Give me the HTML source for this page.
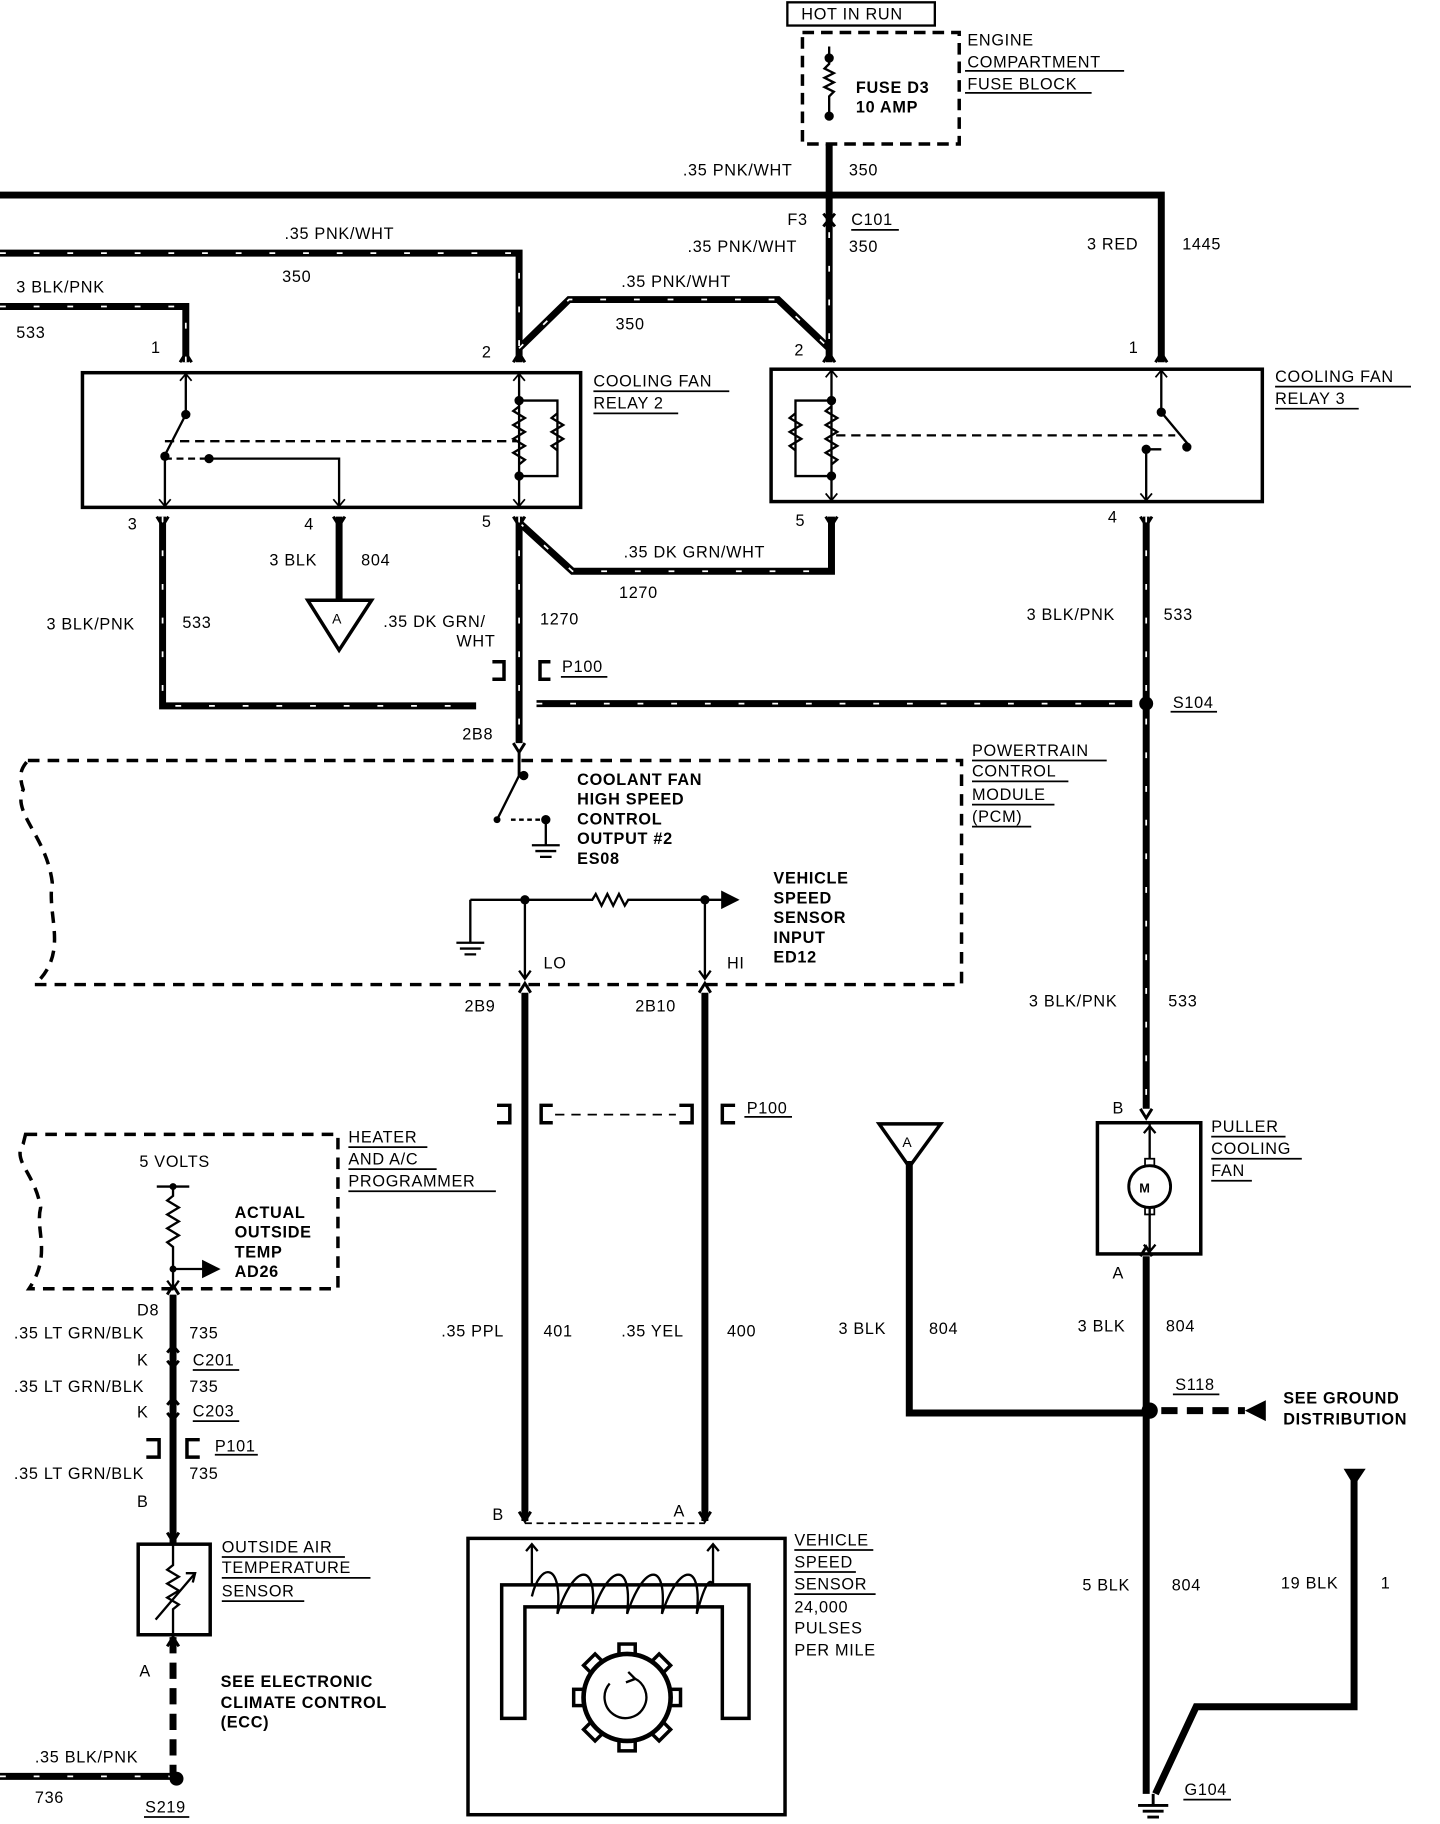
<!DOCTYPE html>
<html><head><meta charset="utf-8"><style>
html,body{margin:0;padding:0;background:#fff;}
svg{display:block}
text{font-family:"Liberation Sans",sans-serif;font-size:14px;fill:#000;letter-spacing:0.6px}
.b{font-weight:bold}
</style></head><body>
<svg width="1440" height="1824" viewBox="0 0 1240 1571" preserveAspectRatio="none" xmlns="http://www.w3.org/2000/svg">
<defs>
<marker id="ar" markerWidth="8" markerHeight="8" refX="7" refY="4" orient="auto"><path d="M0,0 L8,4 L0,8 z" fill="#000"/></marker>
</defs>
<g fill="none" stroke="#000" stroke-linejoin="miter">
<rect x="678" y="2" width="127" height="20" stroke-width="2"/>
<rect x="691" y="28" width="135" height="96" stroke-width="3" stroke-dasharray="10,6"/>
<path d="M714,40 V55 l-4,4 l8,4 l-8,4 l8,4 l-8,4 l8,4 l-4,4 V100" stroke-width="2"/>
<g stroke-width="6">
<path d="M714,124 V312"/>
<path d="M0,168 H1000 V312"/>
<path d="M0,218 H447 V312"/>
<path d="M0,264 H160 V312"/>
<path d="M447,300 L490,258 H670 L714,300"/>
<path d="M140,445 V608 H410"/>
<path d="M292,445 V517"/>
<path d="M447,445 V640"/>
<path d="M447,450 L493,492 H716 V445"/>
<path d="M462,606 H975"/>
<path d="M987,445 V955"/>
<path d="M452,855 V1310"/>
<path d="M607,855 V1310"/>
<path d="M149,1115 V1330"/>
<path d="M987,1082 V1545"/>
<path d="M783,1000 V1217 H987"/>
<path d="M1166,1275 V1470 H1030 L995,1545"/>
<path d="M0,1530 H150"/>
</g>
<g stroke="#fff" stroke-width="1.5" stroke-dasharray="5,24">
<path d="M0,218 H447 V312"/>
<path d="M0,264 H160 V312"/>
<path d="M447,300 L490,258 H670 L714,300"/>
<path d="M714,200 V312"/>
<path d="M140,445 V608 H410"/>
<path d="M447,445 V640"/>
<path d="M447,450 L493,492 H716"/>
<path d="M462,606 H975"/>
<path d="M987,445 V955"/>
<path d="M0,1530 H150"/>
</g>
<path d="M149,1410 V1530" stroke-width="6" stroke-dasharray="14,8"/>
<path d="M1000,1215 H1072" stroke-width="6" stroke-dasharray="14,8"/>
<rect x="71" y="321" width="429" height="116" stroke-width="3"/>
<rect x="664" y="318" width="423" height="114" stroke-width="3"/>
<g stroke-width="2">
<path d="M160,321 V357 L142,392 V437"/>
<path d="M142,380 H445" stroke-dasharray="8,5"/>
<path d="M142,395 H180" stroke-dasharray="6,4"/>
<path d="M180,395 H292 V437"/>
<path d="M447,321 V437 M447,345 H480 V410 H447"/>
<path d="M447,350 l-5,4 l10,6 l-10,6 l10,6 l-10,6 l10,6 l-10,6 l10,6 l-5,4"/>
<path d="M480,356 l-5,4 l10,6 l-10,6 l10,6 l-10,6 l5,4"/>
<path d="M716,318 V432 M716,345 H685 V410 H716"/>
<path d="M716,350 l-5,4 l10,6 l-10,6 l10,6 l-10,6 l10,6 l-10,6 l10,6 l-5,4"/>
<path d="M685,356 l-5,4 l10,6 l-10,6 l10,6 l-10,6 l5,4"/>
<path d="M720,375 H1012" stroke-dasharray="8,5"/>
<path d="M1000,318 V355 L1025,385"/>
<path d="M987,387 V432 M987,387 H1000" />
</g>
<g fill="#000" stroke="none">
<circle cx="160" cy="357" r="4"/><circle cx="142" cy="393" r="4"/><circle cx="180" cy="395" r="4"/>
<circle cx="447" cy="345" r="4"/><circle cx="447" cy="410" r="4"/>
<circle cx="716" cy="345" r="4"/><circle cx="716" cy="410" r="4"/>
<circle cx="1000" cy="355" r="4"/><circle cx="1022" cy="385" r="4"/><circle cx="987" cy="387" r="4"/>
<circle cx="714" cy="50" r="4"/><circle cx="714" cy="100" r="4"/>
<circle cx="987" cy="606" r="6"/><circle cx="990" cy="1215" r="7"/><circle cx="152" cy="1532" r="6"/>
<circle cx="452" cy="775" r="4"/><circle cx="607" cy="775" r="4"/><circle cx="149" cy="1022" r="3"/><circle cx="149" cy="1093" r="3"/>
<circle cx="451" cy="668" r="4"/><circle cx="428" cy="706" r="3"/><circle cx="470" cy="706" r="4"/>
<path d="M1072,1215 L1090,1206 V1224 z"/>
<path d="M1157,1265 H1176 L1166,1280 z"/>
</g>
<g stroke-width="2.5">
<path d="M155,312 l5,-8 l5,8 M442,312 l5,-8 l5,8 M709,312 l5,-8 l5,8 M995,312 l5,-8 l5,8"/>
<path d="M135,445 l5,8 l5,-8 M287,445 l5,8 l5,-8 M442,445 l5,8 l5,-8 M711,445 l5,8 l5,-8 M982,445 l5,8 l5,-8"/>
<path d="M442,640 l5,8 l5,-8 M447,648 V668"/>
<path d="M447,855 l5,-8 l5,8 M602,855 l5,-8 l5,8 M144,1115 l5,-8 l5,8"/>
<path d="M982,955 l5,8 l5,-8 M982,1082 l5,-8 l5,8"/>
<path d="M144,1165 l5,-6 l5,6 M144,1172 l5,6 l5,-6 M144,1210 l5,-6 l5,6 M144,1217 l5,6 l5,-6"/>
<path d="M144,1320 l5,8 l5,-8 M144,1418 l5,-8 l5,8"/>
<path d="M709,184 l5,6 l5,-6 M709,195 l5,-6 l5,6"/>
</g>
<g stroke-width="1.5">
<path d="M155,328 l5,-6 l5,6 M442,328 l5,-6 l5,6 M711,325 l5,-6 l5,6 M995,325 l5,-6 l5,6"/>
<path d="M137,430 l5,6 l5,-6 M287,430 l5,6 l5,-6 M442,430 l5,6 l5,-6 M711,425 l5,6 l5,-6 M982,425 l5,6 l5,-6"/>
</g>
<path d="M265,517 H320 L292,560 z" stroke-width="3"/>
<path d="M757,968 H810 L783,1005 z" stroke-width="3"/>
<g stroke-width="3">
<path d="M424,570 H434 V585 H424 M474,570 H465 V585 H474"/>
<path d="M428,952 H439 V967 H428 M476,952 H466 V967 H476"/>
<path d="M585,952 H596 V967 H585 M633,952 H622 V967 H633"/>
<path d="M126,1240 H137 V1255 H126 M172,1240 H161 V1255 H172"/>
</g>
<path d="M478,960 H582" stroke-width="1.5" stroke-dasharray="8,6"/>
<path d="M24,655 H828 V848 H30 C60,820 40,790 45,760 C40,720 10,700 20,680 C15,665 20,660 24,655" stroke-width="3" stroke-dasharray="10,7"/>
<path d="M447,668 L428,706 M470,706 V728 M458,728 H482 M461,733 H479 M465,738 H475" stroke-width="2"/>
<path d="M440,706 H470" stroke-width="2" stroke-dasharray="4,3"/>
<path d="M405,775 H510 l3,-5 l5,10 l5,-10 l5,10 l5,-10 l5,10 l3,-5 H635" stroke-width="2" marker-end="url(#ar)"/>
<path d="M405,775 V812 M393,812 H417 M396,817 H414 M400,822 H410 M452,775 V843 M607,775 V843 M447,836 l5,7 l5,-7 M602,836 l5,7 l5,-7" stroke-width="2"/>
<path d="M22,977 H291 V1110 H25 C45,1080 30,1060 35,1040 C30,1010 10,1000 20,985 Z" stroke-width="3" stroke-dasharray="10,7"/>
<path d="M135,1022 H163 M149,1022 V1030 l-5,4 l10,6 l-10,6 l10,6 l-10,6 l10,6 l-10,6 l5,4 V1110 M144,1103 l5,7 l5,-7" stroke-width="2"/>
<path d="M149,1093 H188" stroke-width="2" marker-end="url(#ar)"/>
<rect x="119" y="1330" width="62" height="78" stroke-width="3"/>
<path d="M149,1330 V1348 l-5,4 l10,6 l-10,6 l10,6 l-10,6 l10,6 l-5,4 V1408 M134,1395 L168,1355" stroke-width="2"/>
<path d="M160,1355 L168,1355 L166,1363" stroke-width="2"/>
<rect x="945" y="967" width="89" height="113" stroke-width="3"/>
<circle cx="990" cy="1022" r="18" stroke-width="2.5"/>
<path d="M990,967 V998 M990,1040 V1080 M985,976 l5,-6 l5,6 M985,1072 l5,6 l5,-6" stroke-width="2"/>
<rect x="986" y="998" width="8" height="6" stroke-width="1.5"/><rect x="986" y="1040" width="8" height="6" stroke-width="1.5"/>
<rect x="403" y="1325" width="273" height="238" stroke-width="3"/>
<path d="M452,1312 H607" stroke-width="1.5" stroke-dasharray="6,4"/>
<path d="M447,1302 l5,8 l5,-8 M602,1302 l5,8 l5,-8" stroke-width="2.5"/>
<path d="M458,1330 V1365 M614,1330 V1365 M453,1336 l5,-6 l5,6 M609,1336 l5,-6 l5,6" stroke-width="2"/>
<path d="M432,1365 H645 V1480 H622 V1384 H452 V1480 H432 Z" stroke-width="3"/>
<path d="M458,1375 C465,1345 485,1345 480,1390 C495,1345 515,1345 510,1390 C525,1345 545,1345 540,1390 C555,1345 575,1345 570,1390 C585,1345 605,1345 600,1390 C608,1360 612,1360 614,1365" stroke-width="2"/>
<circle cx="540" cy="1462" r="38" stroke-width="3"/>
<g stroke-width="3">
<rect x="533" y="1416" width="14" height="9" transform="rotate(0 540 1462)"/>
<rect x="533" y="1416" width="14" height="9" transform="rotate(45 540 1462)"/>
<rect x="533" y="1416" width="14" height="9" transform="rotate(90 540 1462)"/>
<rect x="533" y="1416" width="14" height="9" transform="rotate(135 540 1462)"/>
<rect x="533" y="1416" width="14" height="9" transform="rotate(180 540 1462)"/>
<rect x="533" y="1416" width="14" height="9" transform="rotate(225 540 1462)"/>
<rect x="533" y="1416" width="14" height="9" transform="rotate(270 540 1462)"/>
<rect x="533" y="1416" width="14" height="9" transform="rotate(315 540 1462)"/>
</g>
<circle cx="540" cy="1462" r="36" fill="#fff" stroke="none"/>
<circle cx="540" cy="1462" r="37" stroke-width="3"/>
<path d="M525,1450 A18,18 0 1 0 545,1445" stroke-width="2"/>
<path d="M541,1440 L547,1446 L539,1449" stroke-width="2"/>
<path d="M993,1545 V1555 M980,1555 H1006 M984,1560 H1002 M988,1565 H998" stroke-width="2.5"/>
<g stroke-width="1.5">
<path d="M831,61 H968 M831,80 H940 M733,198 H774 M511,337 H628 M511,356 H584 M1098,333 H1215 M1098,352 H1170 M483,583 H523 M1008,613 H1048 M837,655 H953 M837,673 H920 M837,693 H908 M837,712 H888 M641,962 H682 M300,988 H368 M300,1007 H376 M300,1026 H427 M166,1180 H206 M166,1224 H206 M185,1253 H222 M191,1341 H297 M191,1359 H319 M191,1379 H262 M1043,979 H1107 M1043,998 H1121 M1043,1017 H1078 M1010,1201 H1050 M684,1335 H752 M684,1354 H737 M684,1373 H754 M1019,1550 H1060 M124,1565 H163"/>
</g>
</g>
<g>
<text x="690" y="17">HOT IN RUN</text>
<text x="833" y="39">ENGINE</text><text x="833" y="58">COMPARTMENT</text><text x="833" y="77">FUSE BLOCK</text>
<text x="737" y="80" class="b">FUSE D3</text><text x="737" y="97" class="b">10 AMP</text>
<text x="588" y="151">.35 PNK/WHT</text><text x="731" y="151">350</text>
<text x="678" y="194">F3</text><text x="733" y="194">C101</text>
<text x="592" y="217">.35 PNK/WHT</text><text x="731" y="217">350</text>
<text x="936" y="215">3 RED</text><text x="1018" y="215">1445</text>
<text x="245" y="206">.35 PNK/WHT</text><text x="243" y="243">350</text>
<text x="14" y="252">3 BLK/PNK</text><text x="14" y="291">533</text>
<text x="535" y="247">.35 PNK/WHT</text><text x="530" y="284">350</text>
<text x="130" y="304">1</text><text x="415" y="308">2</text><text x="684" y="306">2</text><text x="972" y="304">1</text>
<text x="511" y="333">COOLING FAN</text><text x="511" y="352">RELAY 2</text>
<text x="1098" y="329">COOLING FAN</text><text x="1098" y="348">RELAY 3</text>
<text x="110" y="456">3</text><text x="262" y="456">4</text><text x="415" y="454">5</text><text x="685" y="453">5</text><text x="954" y="450">4</text>
<text x="232" y="487">3 BLK</text><text x="311" y="487">804</text>
<text x="537" y="480">.35 DK GRN/WHT</text><text x="533" y="515">1270</text>
<text x="40" y="542">3 BLK/PNK</text><text x="157" y="541">533</text>
<text x="330" y="540">.35 DK GRN/</text><text x="393" y="557">WHT</text><text x="465" y="538">1270</text>
<text x="286" y="537" style="font-size:12px">A</text><text x="777" y="988" style="font-size:12px">A</text>
<text x="484" y="579">P100</text><text x="1010" y="610">S104</text>
<text x="884" y="534">3 BLK/PNK</text><text x="1002" y="534">533</text>
<text x="398" y="637">2B8</text>
<text x="837" y="651">POWERTRAIN</text><text x="837" y="669">CONTROL</text><text x="837" y="689">MODULE</text><text x="837" y="708">(PCM)</text>
<text x="497" y="676" class="b">COOLANT FAN</text><text x="497" y="693" class="b">HIGH SPEED</text><text x="497" y="710" class="b">CONTROL</text><text x="497" y="727" class="b">OUTPUT #2</text><text x="497" y="744" class="b">ES08</text>
<text x="666" y="761" class="b">VEHICLE</text><text x="666" y="778" class="b">SPEED</text><text x="666" y="795" class="b">SENSOR</text><text x="666" y="812" class="b">INPUT</text><text x="666" y="829" class="b">ED12</text>
<text x="468" y="834">LO</text><text x="626" y="834">HI</text>
<text x="400" y="871">2B9</text><text x="547" y="871">2B10</text>
<text x="886" y="867">3 BLK/PNK</text><text x="1006" y="867">533</text>
<text x="643" y="959">P100</text>
<text x="958" y="959">B</text><text x="958" y="1101">A</text>
<text x="981" y="1027" style="font-size:11px" class="b">M</text>
<text x="1043" y="975">PULLER</text><text x="1043" y="994">COOLING</text><text x="1043" y="1013">FAN</text>
<text x="300" y="984">HEATER</text><text x="300" y="1003">AND A/C</text><text x="300" y="1022">PROGRAMMER</text>
<text x="120" y="1005">5 VOLTS</text>
<text x="202" y="1049" class="b">ACTUAL</text><text x="202" y="1066" class="b">OUTSIDE</text><text x="202" y="1083" class="b">TEMP</text><text x="202" y="1100" class="b">AD26</text>
<text x="118" y="1133">D8</text>
<text x="12" y="1153">.35 LT GRN/BLK</text><text x="163" y="1153">735</text>
<text x="118" y="1176">K</text><text x="166" y="1176">C201</text>
<text x="12" y="1199">.35 LT GRN/BLK</text><text x="163" y="1199">735</text>
<text x="118" y="1221">K</text><text x="166" y="1220">C203</text>
<text x="185" y="1250">P101</text>
<text x="12" y="1274">.35 LT GRN/BLK</text><text x="163" y="1274">735</text>
<text x="118" y="1298">B</text>
<text x="191" y="1337">OUTSIDE AIR</text><text x="191" y="1355">TEMPERATURE</text><text x="191" y="1375">SENSOR</text>
<text x="120" y="1444">A</text>
<text x="190" y="1453" class="b">SEE ELECTRONIC</text><text x="190" y="1471" class="b">CLIMATE CONTROL</text><text x="190" y="1488" class="b">(ECC)</text>
<text x="30" y="1518">.35 BLK/PNK</text><text x="30" y="1553">736</text><text x="125" y="1561">S219</text>
<text x="380" y="1151">.35 PPL</text><text x="468" y="1151">401</text><text x="535" y="1151">.35 YEL</text><text x="626" y="1151">400</text>
<text x="722" y="1149">3 BLK</text><text x="800" y="1149">804</text>
<text x="928" y="1147">3 BLK</text><text x="1004" y="1147">804</text>
<text x="1012" y="1197">S118</text>
<text x="1105" y="1209" class="b">SEE GROUND</text><text x="1105" y="1227" class="b">DISTRIBUTION</text>
<text x="424" y="1309">B</text><text x="580" y="1306">A</text>
<text x="684" y="1331">VEHICLE</text><text x="684" y="1350">SPEED</text><text x="684" y="1369">SENSOR</text>
<text x="684" y="1389">24,000</text><text x="684" y="1407">PULSES</text><text x="684" y="1426">PER MILE</text>
<text x="932" y="1370">5 BLK</text><text x="1009" y="1370">804</text><text x="1103" y="1368">19 BLK</text><text x="1189" y="1368">1</text>
<text x="1020" y="1546">G104</text>
</g>
</svg>
</body></html>
